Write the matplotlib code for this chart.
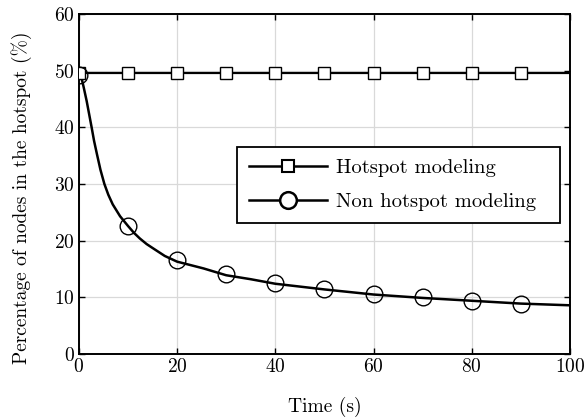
import numpy as np
import matplotlib
matplotlib.use("Agg")
import matplotlib.pyplot as plt

plt.rcParams['font.family'] = ['cmr10', 'DejaVu Sans']
plt.rcParams['mathtext.fontset'] = 'cm'
plt.rcParams['axes.formatter.use_mathtext'] = True

# hotspot modeling (flat)
hot_x = [0, 10, 20, 30, 40, 50, 60, 70, 80, 90, 100]
hot_y = [49.6, 49.6, 49.6, 49.6, 49.6, 49.6, 49.6, 49.6, 49.6, 49.6, 49.6]
hot_mark_x = [0, 10, 20, 30, 40, 50, 60, 70, 80, 90]
hot_mark_y = [49.6, 49.6, 49.6, 49.6, 49.6, 49.6, 49.6, 49.6, 49.6, 49.6]

# non hotspot modeling: curve
non_x = [0, 0.3, 0.6, 1.0, 1.6, 2.1, 2.6, 3.1, 3.7, 4.4, 5.2, 6.0, 6.9, 8.4, 10,
         11.2, 12.4, 13.8, 15.2, 17.5, 20, 25.4, 30, 35, 40, 50, 60, 70, 80, 90, 100]
non_y = [49.5, 49.3, 48.5, 47.0, 44.6, 42.3, 40.0, 37.6, 35.2, 32.5, 30.0, 28.1,
         26.4, 24.3, 22.6, 21.4, 20.4, 19.4, 18.6, 17.3, 16.3, 15.1, 13.9, 13.2,
         12.4, 11.4, 10.5, 9.9, 9.4, 8.9, 8.6]
non_mark_x = [0, 10, 20, 30, 40, 50, 60, 70, 80, 90]
non_mark_y = [49.2, 22.6, 16.6, 14.1, 12.5, 11.5, 10.6, 10.1, 9.4, 8.9]

fig = plt.figure(figsize=(5.84, 4.2), dpi=100)
ax = fig.add_axes([0.135, 0.157, 0.841, 0.81])

ax.plot(hot_x, hot_y, color='black', lw=1.6, zorder=3)
ax.plot(hot_mark_x, hot_mark_y, ls='none', marker='s', ms=9, mfc='white',
        mec='black', mew=1.0, zorder=4)
ax.plot(non_x, non_y, color='black', lw=1.8, zorder=3)
ax.plot(non_mark_x, non_mark_y, ls='none', marker='o', ms=12, mfc='none',
        mec='black', mew=1.0, zorder=4)

# legend proxies
h1, = ax.plot([], [], color='black', lw=1.8, marker='s', ms=9, mfc='white',
              mec='black', mew=1.5)
h2, = ax.plot([], [], color='black', lw=1.8, marker='o', ms=12, mfc='white',
              mec='black', mew=1.8)
leg = ax.legend([h1, h2], ["Hotspot modeling", "Non hotspot modeling"],
                loc='upper left', bbox_to_anchor=(0.322, 0.384, 0.658, 0.226),
                mode='expand', fontsize=14.8,
                handlelength=3.8, handletextpad=0.4, fancybox=False, framealpha=1,
                edgecolor='black', borderpad=0.6, labelspacing=0.75,
                borderaxespad=0)
leg.get_frame().set_linewidth(1.3)

ax.set_xlim(0, 100)
ax.set_ylim(0, 60)
ax.set_xticks([0, 20, 40, 60, 80, 100])
ax.set_yticks([0, 10, 20, 30, 40, 50, 60])
ax.grid(True, color='#d9d9d9', lw=0.9)
ax.set_axisbelow(True)
ax.tick_params(direction='in', top=True, right=True, labelsize=14, length=4,
               width=1, pad=3)
for s in ax.spines.values():
    s.set_linewidth(1.4)

ax.set_xlabel("Time (s)", fontsize=14, labelpad=15)
ax.set_ylabel("Percentage of nodes in the hotspot (%)", fontsize=14)
ax.yaxis.set_label_coords(-0.095, 0.459)

fig.savefig("out.png", dpi=100)
